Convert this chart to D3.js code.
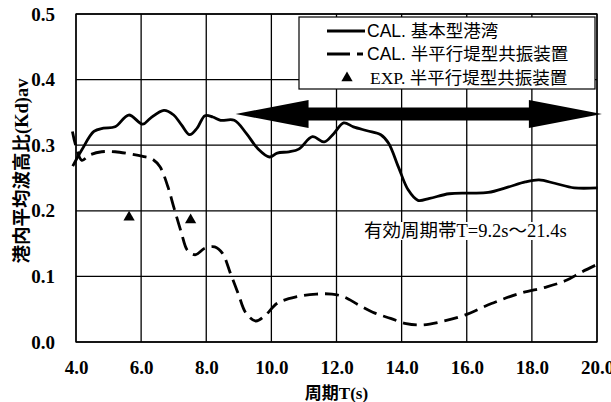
<!DOCTYPE html>
<html><head><meta charset="utf-8">
<script src="https://cdn.jsdelivr.net/npm/d3@7/dist/d3.min.js"></script>
<style>
body{margin:0;background:#fff;}
svg{display:block;}
</style></head>
<body><svg id="chart" width="611" height="402"></svg>
<script>
// ---- data ----
const xTicks = [4,6,8,10,12,14,16,18,20];
const yTicks = [0.0,0.1,0.2,0.3,0.4,0.5];
const basicT = [3.9,4.18,4.55,4.84,5.2,5.62,6.05,6.28,6.7,7.0,7.24,7.49,7.72,7.96,8.2,8.44,8.86,9.23,9.58,9.94,10.18,10.54,10.84,11.26,11.62,11.92,12.22,12.52,12.94,13.36,13.6,13.9,14.2,14.5,14.86,15.46,16.06,16.66,17.26,17.8,18.22,18.7,19.3,20.02];
const basicKd = [0.268,0.293,0.321,0.326,0.328,0.346,0.332,0.341,0.353,0.346,0.331,0.316,0.326,0.345,0.343,0.338,0.338,0.318,0.295,0.282,0.288,0.29,0.294,0.313,0.305,0.318,0.334,0.328,0.322,0.316,0.303,0.267,0.232,0.216,0.219,0.226,0.227,0.228,0.236,0.244,0.247,0.242,0.235,0.235];
const semiT = [3.89,4.0,4.18,4.42,4.79,5.2,5.62,6.05,6.34,6.58,6.82,7.0,7.24,7.42,7.66,7.96,8.26,8.5,8.74,8.98,9.22,9.52,9.82,10.18,10.78,11.38,11.86,12.22,12.7,13.18,13.66,14.14,14.62,15.22,15.94,16.78,17.62,18.46,19.06,19.54,20.08];
const semiKd = [0.321,0.298,0.277,0.285,0.29,0.29,0.287,0.283,0.279,0.267,0.237,0.206,0.166,0.14,0.133,0.143,0.145,0.135,0.105,0.074,0.044,0.032,0.041,0.059,0.069,0.073,0.073,0.069,0.056,0.044,0.036,0.028,0.026,0.031,0.041,0.059,0.074,0.084,0.094,0.107,0.12];
const expT = [5.63,7.52];
const expKd = [0.19,0.186];
const legendLabels = ["CAL. 基本型港湾","CAL. 半平行堤型共振装置","EXP. 半平行堤型共振装置"];
const xTitle = "周期T(s)";
const yTitle = "港内平均波高比(Kd)av";
const bandText = "有効周期帯T=9.2s～21.4s";
const bandRange = [8.9, 20.15];
const bandLevel = 0.3475;

// ---- layout ----
const svg = d3.select("#chart");
const L=76, R=597, T=14, B=342;
const x = d3.scaleLinear().domain([4,20]).range([L,R]);
const y = d3.scaleLinear().domain([0,0.5]).range([B,T]);
const serif = "'Liberation Serif','Noto Sans CJK JP',serif";
const sans = "'Liberation Sans','Noto Sans CJK JP',sans-serif";

// grid
const g = svg.append("g");
g.selectAll(".vx").data(xTicks).join("line")
  .attr("x1",d=>x(d)).attr("x2",d=>x(d)).attr("y1",T).attr("y2",B)
  .attr("stroke","#000").attr("stroke-width",1.3);
g.selectAll(".hy").data(yTicks).join("line")
  .attr("x1",L).attr("x2",R).attr("y1",d=>y(d)).attr("y2",d=>y(d))
  .attr("stroke","#000").attr("stroke-width",1.3);

// axes labels via d3 axes
const xAxis = svg.append("g").attr("transform",`translate(0,${B})`)
  .call(d3.axisBottom(x).tickValues(xTicks).tickFormat(d3.format(".1f")).tickSize(0).tickPadding(19));
xAxis.select(".domain").remove();
xAxis.selectAll("text").attr("font-family",serif).attr("font-size",19).attr("font-weight","bold").attr("fill","#000");
const yAxis = svg.append("g").attr("transform",`translate(${L},0)`)
  .call(d3.axisLeft(y).tickValues(yTicks).tickFormat(d3.format(".1f")).tickSize(0).tickPadding(21));
yAxis.select(".domain").remove();
yAxis.selectAll("text").attr("font-family",serif).attr("font-size",19).attr("font-weight","bold").attr("fill","#000");

// titles
svg.append("text").attr("x",(L+R)/2).attr("y",399).attr("text-anchor","middle")
  .attr("font-family",serif).attr("font-size",17).attr("font-weight","bold").text(xTitle);
svg.append("text").attr("transform",`translate(28,171) rotate(-90)`).attr("text-anchor","middle")
  .attr("font-family",serif).attr("font-size",18.5).attr("font-weight","bold").text(yTitle);

// band annotation arrow
const ax0=x(bandRange[0]), ax1=x(bandRange[1]), ay=y(bandLevel);
const headL=73, headH=14, shaftH=6.5;
svg.append("path").attr("fill","#000").attr("d",
  `M${ax0},${ay} L${ax0+headL},${ay-headH} L${ax0+headL},${ay-shaftH} L${ax1-headL},${ay-shaftH} L${ax1-headL},${ay-headH} L${ax1},${ay} L${ax1-headL},${ay+headH} L${ax1-headL},${ay+shaftH} L${ax0+headL},${ay+shaftH} L${ax0+headL},${ay+headH} Z`);

// curves
const line = d3.line().x(d=>x(d[0])).y(d=>y(d[1])).curve(d3.curveCatmullRom.alpha(0.5));
svg.append("path").datum(basicT.map((t,i)=>[t,basicKd[i]])).attr("d",line)
  .attr("fill","none").attr("stroke","#000").attr("stroke-width",2.8);
svg.append("path").datum(semiT.map((t,i)=>[t,semiKd[i]])).attr("d",line)
  .attr("fill","none").attr("stroke","#000").attr("stroke-width",2.8).attr("stroke-dasharray","14,7");
svg.selectAll(".exp").data(expT.map((t,i)=>[t,expKd[i]])).join("path")
  .attr("transform",d=>`translate(${x(d[0])},${y(d[1])})`)
  .attr("d",d3.symbol(d3.symbolTriangle,55)).attr("fill","#000");

// band text
const bt = svg.append("text").attr("x",364).attr("y",237)
  .attr("font-family",serif).attr("font-size",18.5).attr("fill","#000").text(bandText);
const bb = bt.node().getBBox();
svg.insert("rect", function(){return bt.node();}).attr("x",bb.x-3).attr("y",bb.y+1).attr("width",bb.width+6).attr("height",bb.height-2).attr("fill","#fff");

// legend
const lg = svg.append("g");
lg.append("rect").attr("x",299).attr("y",17).attr("width",296).attr("height",72)
  .attr("fill","#fff").attr("stroke","#000").attr("stroke-width",1.2);
const rows=[31,54,78];
lg.append("line").attr("x1",327).attr("x2",365).attr("y1",rows[0]).attr("y2",rows[0]).attr("stroke","#000").attr("stroke-width",2.8);
lg.append("line").attr("x1",327).attr("x2",363).attr("y1",rows[1]).attr("y2",rows[1]).attr("stroke","#000").attr("stroke-width",2.8).attr("stroke-dasharray","23,7");
lg.append("path").attr("transform",`translate(347,${rows[2]})`).attr("d",d3.symbol(d3.symbolTriangle,55)).attr("fill","#000");
lg.selectAll(".lt").data(legendLabels).join("text")
  .attr("x",(d,i)=>i===2?370:367).attr("y",(d,i)=>rows[i]+6)
  .attr("font-family",(d,i)=>i===2?serif:sans).attr("font-size",17.5).attr("fill","#000").text(d=>d);

// plot border
svg.append("rect").attr("x",L).attr("y",T).attr("width",R-L).attr("height",B-T)
  .attr("fill","none").attr("stroke","#000").attr("stroke-width",1.3);
</script></body></html>
